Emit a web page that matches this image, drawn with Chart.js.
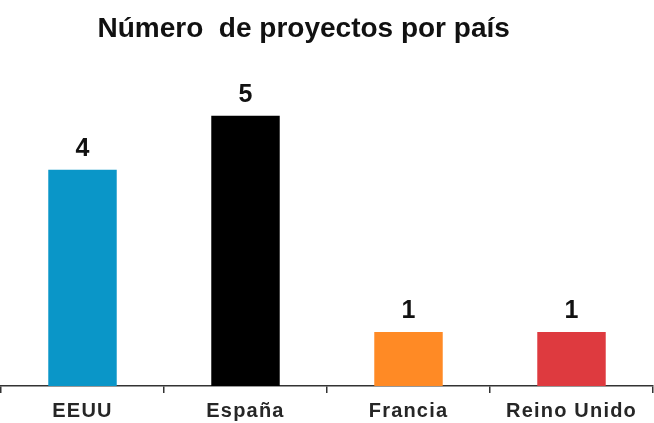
<!DOCTYPE html>
<html>
<head>
<meta charset="utf-8">
<script src="https://cdn.jsdelivr.net/npm/chart.js@4"></script>
<style>
  html, body { margin: 0; padding: 0; background: #fff; }
  #wrap { width: 654px; height: 423px; }
</style>
</head>
<body>
<div id="wrap"><canvas id="chart"></canvas></div>
<script>
const paises = ["EEUU", "España", "Francia", "Reino Unido"];
const proyectos = [4, 5, 1, 1];
const colores = ["#0A96C8", "#000000", "#FF8A25", "#DE3A3F"];

// numbers above bars
const valueLabels = {
  id: "valueLabels",
  afterDatasetsDraw(chart) {
    const ctx = chart.ctx;
    const meta = chart.getDatasetMeta(0);
    ctx.save();
    ctx.font = "bold 25px 'Liberation Sans', Arial, sans-serif";
    ctx.fillStyle = "#111";
    ctx.textAlign = "center";
    ctx.textBaseline = "bottom";
    meta.data.forEach((bar, i) => {
      ctx.fillText(proyectos[i], bar.x, bar.y - 8);
    });
    ctx.restore();
  }
};

// spaced-out category labels
const spacedTicks = {
  id: "spacedTicks",
  afterLayout(chart) {
    const s = chart.scales.x;
    if (s._spaced) return;
    const orig = s.drawLabels;
    s.drawLabels = function (area) {
      const ctx = this.ctx;
      ctx.save();
      ctx.letterSpacing = "1.2px";
      orig.call(this, area);
      ctx.restore();
    };
    s._spaced = true;
  }
};

new Chart(document.getElementById("chart"), {
  type: "bar",
  data: {
    labels: paises,
    datasets: [
      {
        data: proyectos,
        backgroundColor: colores,
        borderWidth: 0,
        categoryPercentage: 1,
        barPercentage: 0.42
      }
    ]
  },
  options: {
    responsive: true,
    maintainAspectRatio: false,
    animation: false,
    layout: { padding: { left: 1, right: 1, bottom: -6 } },
    plugins: {
      legend: { display: false },
      tooltip: { enabled: false },
      title: {
        display: true,
        // trailing spaces nudge the centred title left like the original
        text: "Número  de proyectos por país      ",
        color: "#111",
        font: { family: "'Liberation Sans', Arial, sans-serif", size: 28, weight: "bold" },
        padding: { top: 12, bottom: 16 }
      }
    },
    scales: {
      x: {
        border: { display: true, color: "#333", width: 1.5 },
        grid: { display: true, drawOnChartArea: false, drawTicks: true, tickLength: 7, color: "#333", lineWidth: 1.5, offset: true },
        ticks: {
          color: "#262626",
          padding: 6,
          font: { family: "'Liberation Sans', Arial, sans-serif", size: 20, weight: "bold" }
        }
      },
      y: {
        display: false,
        min: 0,
        max: 6
      }
    }
  },
  plugins: [valueLabels, spacedTicks]
});
</script>
</body>
</html>
